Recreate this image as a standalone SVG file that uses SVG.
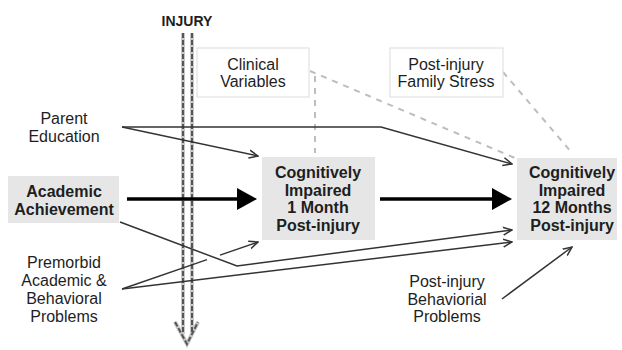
<svg xmlns="http://www.w3.org/2000/svg" width="622" height="350" viewBox="0 0 622 350">
<style>
text{font-family:"Liberation Sans",Arial,sans-serif;fill:#1e1e1e;text-anchor:middle}
.r{font-size:16px}
.b{font-size:16px;font-weight:bold}
.gbox{fill:#e6e6e6;stroke:none}
.wbox{fill:#fff;stroke:#dcdcdc;stroke-width:1}
.ln{fill:none;stroke:#333;stroke-width:1.5}
.dash{fill:none;stroke:#bdbdbd;stroke-width:2;stroke-dasharray:6 6}
.thick{fill:none;stroke:#000;stroke-width:3.5}
.inj{fill:none;stroke:#555;stroke-width:2;stroke-dasharray:5 2}
.injo{fill:none;stroke:#c8c8c8;stroke-width:4}
</style>
<defs>
<marker id="ah" viewBox="0 0 10 10" refX="9" refY="5" markerWidth="10" markerHeight="10" markerUnits="userSpaceOnUse" orient="auto">
<path d="M0,1 L9,5 L0,9" fill="none" stroke="#333" stroke-width="1.5"/>
</marker>
</defs>

<g id="injury">
<text x="187" y="26" style="font-size:14px;font-weight:bold">INJURY</text>
<path class="injo" d="M183,33 V334 M192,33 V334 M175,322 L187,344 L198,322"/>
<path class="inj" d="M183,33 V334 M192,33 V334 M175,322 L187,344 L198,322"/>
</g>

<g id="connectors">
<path class="dash" d="M310,71 L515,158"/>
<path class="dash" d="M315,76 L315,153"/>
<path class="dash" d="M503,72 L572,153"/>
<path class="ln" d="M122,127 L258,156" marker-end="url(#ah)"/>
<path class="ln" d="M122,127 L381,127 L512,164" marker-end="url(#ah)"/>
<path class="ln" d="M120,222 L237,266 L512,230" marker-end="url(#ah)"/>
<path class="ln" d="M122,289 L207,259.6"/>
<path class="ln" d="M220,255.1 L258,242" marker-end="url(#ah)"/>
<path class="ln" d="M122,289 L512,242" marker-end="url(#ah)"/>
<path class="ln" d="M502,299 L572,247" marker-end="url(#ah)"/>
<path class="thick" d="M127,199 L240,199"/>
<polygon points="237,188 257,199 237,210" fill="#000"/>
<path class="thick" d="M380,199 L495,199"/>
<polygon points="492,188 512,199 492,210" fill="#000"/>
</g>

<g id="clinical">
<rect class="wbox" x="197" y="48" width="112" height="49"/>
<text class="r" x="253" y="70">Clinical</text>
<text class="r" x="253" y="87">Variables</text>
</g>

<g id="family-stress">
<rect class="wbox" x="390" y="48" width="113" height="49"/>
<text class="r" x="446" y="70">Post-injury</text>
<text class="r" x="446" y="87">Family Stress</text>
</g>

<g id="parent-education">
<text class="r" x="64" y="124">Parent</text>
<text class="r" x="64" y="142">Education</text>
</g>

<g id="academic-achievement">
<rect class="gbox" x="8" y="176" width="111" height="47"/>
<text class="b" x="64" y="197">Academic</text>
<text class="b" x="64" y="215">Achievement</text>
</g>

<g id="premorbid">
<text class="r" x="64" y="268">Premorbid</text>
<text class="r" x="64" y="286">Academic &amp;</text>
<text class="r" x="64" y="304">Behavioral</text>
<text class="r" x="64" y="322">Problems</text>
</g>

<g id="impaired-1-month">
<rect class="gbox" x="262" y="157" width="113" height="83"/>
<text class="b" x="318" y="178">Cognitively</text>
<text class="b" x="318" y="196">Impaired</text>
<text class="b" x="318" y="213">1 Month</text>
<text class="b" x="318" y="231">Post-injury</text>
</g>

<g id="impaired-12-months">
<rect class="gbox" x="517" y="158" width="100" height="82"/>
<text class="b" x="572" y="178">Cognitively</text>
<text class="b" x="572" y="196">Impaired</text>
<text class="b" x="572" y="213">12 Months</text>
<text class="b" x="572" y="231">Post-injury</text>
</g>

<g id="behavioral-problems">
<text class="r" x="447" y="287">Post-injury</text>
<text class="r" x="447" y="305">Behaviorial</text>
<text class="r" x="447" y="322">Problems</text>
</g>
</svg>
